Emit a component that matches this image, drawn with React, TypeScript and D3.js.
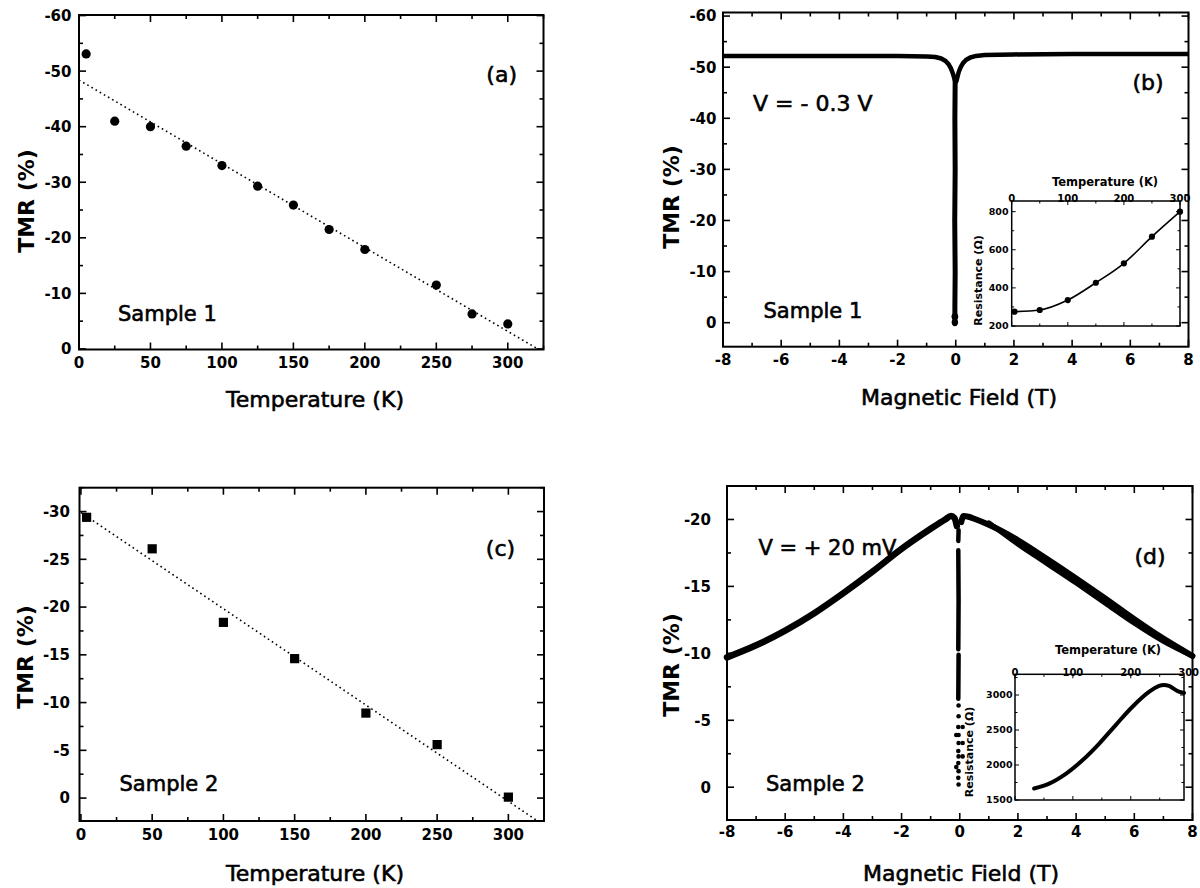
import React from "react";
import * as d3 from "d3";

// ---------- DATA ----------
// Panel (a): Sample 1, TMR vs temperature
const tempA = [5, 25, 50, 75, 100, 125, 150, 175, 200, 250, 275, 300];
const tmrA = [-53.1, -41.0, -40.0, -36.5, -33.0, -29.3, -25.9, -21.5, -17.9, -11.5, -6.3, -4.5];
const fitA: [number, number][] = [[0, -48.4], [321, 0]];

// Panel (c): Sample 2, TMR vs temperature
const tempC = [4, 50, 100, 150, 200, 250, 300];
const tmrC = [-29.4, -26.1, -18.4, -14.6, -8.9, -5.6, -0.1];
const fitC: [number, number][] = [[0, -29.9], [320, 2.35]];

// Panel (b): TMR vs field, Sample 1
const fieldB = [-8, -6, -4, -2, -1, -0.7, -0.5, -0.35, -0.25, -0.17, -0.1, -0.05, -0.02, 0.02, 0.05, 0.1, 0.17, 0.25, 0.35, 0.5, 0.7, 1, 2, 4, 6, 8];
const tmrB = [-52.2, -52.2, -52.2, -52.2, -52.1, -52.0, -51.7, -51.2, -50.6, -49.8, -48.8, -47.8, -47.2, -47.2, -47.9, -49.0, -50.0, -50.8, -51.4, -51.9, -52.2, -52.4, -52.5, -52.6, -52.6, -52.6];
const barFieldB = [-0.02, -0.03, -0.02, -0.035, -0.02, -0.03, -0.03];
const barTmrB = [-47.5, -40, -30, -20, -10, -3, 0.2];
// Inset (b): resistance vs temperature
const insetTempB = [5, 50, 100, 150, 200, 250, 300];
const insetResB = [275, 284, 336, 427, 529, 669, 800];

// Panel (d): TMR vs field, Sample 2
const fieldDLeft = [-8, -7, -6, -5, -4, -3, -2, -1, -0.5, -0.3, -0.18, -0.1];
const tmrDLeft = [-9.7, -10.6, -11.7, -13.0, -14.5, -16.1, -17.8, -19.3, -20.0, -20.25, -20.1, -19.5];
const fieldDRight = [0.05, 0.13, 0.3, 0.5, 1, 2, 3, 4, 5, 6, 7, 8];
const tmrDRight = [-19.8, -20.25, -20.2, -20.05, -19.6, -18.45, -17.05, -15.6, -14.1, -12.55, -11.1, -9.8];
const fieldDRight2 = [1, 2, 3, 4, 5, 6, 7, 8];
const tmrDRight2 = [-19.75, -18.15, -16.7, -15.25, -13.75, -12.25, -10.9, -9.8];
const streakSegsD: [number, number][][] = [
  [[-0.04, -19.2], [-0.05, -18.4]],
  [[-0.05, -17.7], [-0.04, -14], [-0.05, -10.3]],
  [[-0.04, -9.9], [-0.05, -6.6]],
];
const dotFieldD = [-0.04, -0.04, -0.05, -0.04, 0.1, -0.04, 0.1, -0.05, -0.04, 0.1, -0.05, -0.04, -0.05, -0.04, -0.12, -0.12];
const dotTmrD = [-6.1, -5.3, -4.5, -3.9, -4.5, -3.3, -3.3, -2.7, -2.3, -2.3, -1.8, -1.2, -0.7, -0.2, -3.9, -1.5];
// Inset (d): resistance vs temperature
const insetTempD = [33, 60, 89, 117, 146, 174, 203, 232, 249, 257, 266, 283, 292];
const insetResD = [1665, 1738, 1881, 2071, 2310, 2571, 2833, 3047, 3129, 3143, 3129, 3047, 3030];

// Tick values
const tempMajor = [0, 50, 100, 150, 200, 250, 300];
const tempMinor = [25, 75, 125, 175, 225, 275, 325];
const fieldMajor = [-8, -6, -4, -2, 0, 2, 4, 6, 8];
const fieldMinor = [-7, -5, -3, -1, 1, 3, 5, 7];
const tmrAMajor = [-60, -50, -40, -30, -20, -10, 0];
const tmrAMinor = [-55, -45, -35, -25, -15, -5];
const tmrCMajor = [-30, -25, -20, -15, -10, -5, 0];
const tmrCMinor = [-32.5, -27.5, -22.5, -17.5, -12.5, -7.5, -2.5];
const tmrBMajor = [-60, -50, -40, -30, -20, -10, 0];
const tmrBMinor = [-55, -45, -35, -25, -15, -5];
const tmrDMajor = [-20, -15, -10, -5, 0];
const tmrDMinor = [-22.5, -17.5, -12.5, -7.5, -2.5];
const insetTMajor = [0, 100, 200, 300];
const insetTMinor = [50, 150, 250];
const insetRBMajor = [200, 400, 600, 800];
const insetRBMinor = [300, 500, 700];
const insetRDMajor = [1500, 2000, 2500, 3000];
const insetRDMinor = [1750, 2250, 2750, 3250];

const FONT = "DejaVu Sans, sans-serif";

function Frame({ xs, ys, xMajor, xMinor, yMajor, yMinor, maj = 7, min = 4, sw = 2, tsw = 1.6 }: any) {
  const [l, r] = xs.range();
  const [b, t] = ys.range();
  const xd = xs.domain();
  const yd = ys.domain();
  const inX = (v: number) => v >= Math.min(xd[0], xd[1]) && v <= Math.max(xd[0], xd[1]);
  const inY = (v: number) => v >= Math.min(yd[0], yd[1]) && v <= Math.max(yd[0], yd[1]);
  const els: any[] = [];
  const addX = (vals: number[], len: number, key: string) =>
    vals.filter(inX).forEach((v, i) => {
      const x = xs(v);
      els.push(<line key={key + "b" + i} x1={x} x2={x} y1={b} y2={b - len} stroke="#000" strokeWidth={tsw} />);
      els.push(<line key={key + "t" + i} x1={x} x2={x} y1={t} y2={t + len} stroke="#000" strokeWidth={tsw} />);
    });
  const addY = (vals: number[], len: number, key: string) =>
    vals.filter(inY).forEach((v, i) => {
      const y = ys(v);
      els.push(<line key={key + "l" + i} x1={l} x2={l + len} y1={y} y2={y} stroke="#000" strokeWidth={tsw} />);
      els.push(<line key={key + "r" + i} x1={r} x2={r - len} y1={y} y2={y} stroke="#000" strokeWidth={tsw} />);
    });
  addX(xMajor, maj, "xM");
  addX(xMinor, min, "xm");
  addY(yMajor, maj, "yM");
  addY(yMinor, min, "ym");
  return (
    <g>
      <rect x={l} y={t} width={r - l} height={b - t} fill="none" stroke="#000" strokeWidth={sw} />
      {els}
    </g>
  );
}

function XLabels({ xs, vals, y, size = 15, weight = "bold" }: any) {
  return (
    <g>
      {vals.map((v: number, i: number) => (
        <text key={i} x={xs(v)} y={y} dy="0.36em" textAnchor="middle" fontFamily={FONT} fontSize={size} fontWeight={weight}>
          {String(v)}
        </text>
      ))}
    </g>
  );
}

function YLabels({ ys, vals, x, size = 15, weight = "bold" }: any) {
  return (
    <g>
      {vals.map((v: number, i: number) => (
        <text key={i} x={x} y={ys(v)} dy="0.36em" textAnchor="end" fontFamily={FONT} fontSize={size} fontWeight={weight}>
          {String(v)}
        </text>
      ))}
    </g>
  );
}

function Txt({ x, y, children, size = 21, weight = "normal", anchor = "middle", rotate = false }: any) {
  const heavy = weight === "normal";
  return (
    <text
      x={x}
      y={y}
      dy="0.36em"
      textAnchor={anchor}
      fontFamily={FONT}
      fontSize={size}
      fontWeight={weight}
      stroke={heavy ? "#000" : undefined}
      strokeWidth={heavy ? 0.6 : undefined}
      transform={rotate ? `rotate(-90 ${x} ${y})` : undefined}
    >
      {children}
    </text>
  );
}

const zip = (a: number[], b: number[]) => a.map((v, i) => [v, b[i]] as [number, number]);

export default function App() {
  // Panel (a)
  const xa = d3.scaleLinear().domain([0, 325]).range([79, 543.5]);
  const ya = d3.scaleLinear().domain([0.1, -60.1]).range([349.5, 15]);
  // Panel (b)
  const xb = d3.scaleLinear().domain([-8, 8]).range([723, 1188.5]);
  const yb = d3.scaleLinear().domain([4.7, -60.7]).range([346.7, 12.5]);
  const xbi = d3.scaleLinear().domain([0, 300]).range([1011.7, 1180]);
  const ybi = d3.scaleLinear().domain([200, 856]).range([326, 201]);
  // Panel (c)
  const xc = d3.scaleLinear().domain([-1, 325]).range([79.5, 544]);
  const yc = d3.scaleLinear().domain([2.4, -32.5]).range([821, 487.7]);
  // Panel (d)
  const xd = d3.scaleLinear().domain([-8, 8]).range([727, 1192.5]);
  const yd = d3.scaleLinear().domain([2.45, -22.5]).range([820, 486]);
  const xdi = d3.scaleLinear().domain([0, 292]).range([1015, 1184]);
  const ydi = d3.scaleLinear().domain([1500, 3296]).range([800, 674.3]);

  const lineA = d3.line<[number, number]>().x((d) => xa(d[0])).y((d) => ya(d[1]));
  const lineC = d3.line<[number, number]>().x((d) => xc(d[0])).y((d) => yc(d[1]));
  const lineB = d3.line<[number, number]>().x((d) => xb(d[0])).y((d) => yb(d[1]));
  const lineBi = d3.line<[number, number]>().x((d) => xbi(d[0])).y((d) => ybi(d[1])).curve(d3.curveMonotoneX);
  const lineD = d3.line<[number, number]>().x((d) => xd(d[0])).y((d) => yd(d[1])).curve(d3.curveMonotoneX);
  const lineDs = d3.line<[number, number]>().x((d) => xd(d[0])).y((d) => yd(d[1]));
  const lineDi = d3.line<[number, number]>().x((d) => xdi(d[0])).y((d) => ydi(d[1])).curve(d3.curveCatmullRom);

  return (
    <svg width={1200} height={888} style={{ display: "block", position: "absolute", left: 0, top: 0, background: "#fff" }}>
      <rect x={0} y={0} width={1200} height={888} fill="#fff" />

      {/* ---------- Panel (a) ---------- */}
      <Frame xs={xa} ys={ya} xMajor={tempMajor} xMinor={tempMinor} yMajor={tmrAMajor} yMinor={tmrAMinor} />
      <path d={lineA(fitA) || ""} fill="none" stroke="#000" strokeWidth={1.6} strokeDasharray="1.6 3.2" />
      {zip(tempA, tmrA).map((d, i) => (
        <circle key={i} cx={xa(d[0])} cy={ya(d[1])} r={4.6} fill="#000" />
      ))}
      <XLabels xs={xa} vals={tempMajor} y={362.5} />
      <YLabels ys={ya} vals={tmrAMajor} x={71.5} />
      <Txt x={315} y={399.5} size={22}>Temperature (K)</Txt>
      <Txt x={26} y={201} size={22} weight="bold" rotate>TMR (%)</Txt>
      <Txt x={501.7} y={74} size={22}>(a)</Txt>
      <Txt x={118} y={313} size={21} anchor="start">Sample 1</Txt>

      {/* ---------- Panel (b) ---------- */}
      <Frame xs={xb} ys={yb} xMajor={fieldMajor} xMinor={fieldMinor} yMajor={tmrBMajor} yMinor={tmrBMinor} />
      <path d={lineB(zip(fieldB, tmrB)) || ""} fill="none" stroke="#000" strokeWidth={4.5} strokeLinejoin="round" />
      <path d={lineB(zip(barFieldB, barTmrB)) || ""} fill="none" stroke="#000" strokeWidth={5} strokeLinecap="round" />
      <circle cx={xb(-0.03)} cy={yb(-1.2)} r={3.4} fill="#000" />
      <circle cx={xb(-0.03)} cy={yb(-0.1)} r={3.2} fill="#000" />
      <XLabels xs={xb} vals={fieldMajor} y={360} />
      <YLabels ys={yb} vals={tmrBMajor} x={716.5} />
      <Txt x={959} y={397} size={22}>Magnetic Field (T)</Txt>
      <Txt x={671} y={197} size={22} weight="bold" rotate>TMR (%)</Txt>
      <Txt x={1148} y={82} size={22}>(b)</Txt>
      <Txt x={753} y={103.5} size={22} anchor="start">V = - 0.3 V</Txt>
      <Txt x={763.5} y={310} size={21} anchor="start">Sample 1</Txt>

      {/* Inset (b) */}
      <rect x={1011.7} y={201} width={1180 - 1011.7} height={326 - 201} fill="#fff" />
      <Frame xs={xbi} ys={ybi} xMajor={insetTMajor} xMinor={insetTMinor} yMajor={insetRBMajor} yMinor={insetRBMinor} maj={4} min={2.5} sw={1.5} tsw={1} />
      <path d={lineBi(zip(insetTempB, insetResB)) || ""} fill="none" stroke="#000" strokeWidth={1.6} />
      {zip(insetTempB, insetResB).map((d, i) => (
        <circle key={i} cx={xbi(d[0])} cy={ybi(d[1])} r={3.1} fill="#000" />
      ))}
      {insetTMajor.map((v, i) => (
        <text key={i} x={xbi(v)} y={202} textAnchor="middle" fontFamily={FONT} fontSize={10} fontWeight="bold">
          {String(v)}
        </text>
      ))}
      <YLabels ys={ybi} vals={insetRBMajor} x={1008.5} size={9.5} />
      <Txt x={1105} y={181.7} size={11.5} weight="bold">Temperature (K)</Txt>
      <Txt x={978.5} y={280.5} size={11} weight="bold" rotate>Resistance (Ω)</Txt>

      {/* ---------- Panel (c) ---------- */}
      <Frame xs={xc} ys={yc} xMajor={tempMajor} xMinor={tempMinor} yMajor={tmrCMajor} yMinor={tmrCMinor} />
      <path d={lineC(fitC) || ""} fill="none" stroke="#000" strokeWidth={1.6} strokeDasharray="1.6 3.2" />
      {zip(tempC, tmrC).map((d, i) => (
        <rect key={i} x={xc(d[0]) - 4.6} y={yc(d[1]) - 4.6} width={9.2} height={9.2} fill="#000" />
      ))}
      <XLabels xs={xc} vals={tempMajor} y={835} />
      <YLabels ys={yc} vals={tmrCMajor} x={70} />
      <Txt x={315} y={873.5} size={22}>Temperature (K)</Txt>
      <Txt x={25} y={657} size={22} weight="bold" rotate>TMR (%)</Txt>
      <Txt x={500.5} y={548.5} size={22}>(c)</Txt>
      <Txt x={119.5} y={783.5} size={21} anchor="start">Sample 2</Txt>

      {/* ---------- Panel (d) ---------- */}
      <Frame xs={xd} ys={yd} xMajor={fieldMajor} xMinor={fieldMinor} yMajor={tmrDMajor} yMinor={tmrDMinor} />
      <path d={lineD(zip(fieldDLeft, tmrDLeft)) || ""} fill="none" stroke="#000" strokeWidth={6.5} strokeLinecap="round" />
      <path d={lineD(zip(fieldDRight, tmrDRight)) || ""} fill="none" stroke="#000" strokeWidth={6} strokeLinecap="round" />
      <path d={lineD(zip(fieldDRight2, tmrDRight2)) || ""} fill="none" stroke="#000" strokeWidth={5} strokeLinecap="round" />
      {streakSegsD.map((s, i) => (
        <path key={i} d={lineDs(s) || ""} fill="none" stroke="#000" strokeWidth={4.5} strokeLinecap="round" />
      ))}
      {zip(dotFieldD, dotTmrD).map((d, i) => (
        <circle key={i} cx={xd(d[0])} cy={yd(d[1])} r={2.3} fill="#000" />
      ))}
      <XLabels xs={xd} vals={fieldMajor} y={831.5} />
      <YLabels ys={yd} vals={tmrDMajor} x={711} />
      <Txt x={961} y={873.5} size={22}>Magnetic Field (T)</Txt>
      <Txt x={671} y={665} size={22} weight="bold" rotate>TMR (%)</Txt>
      <Txt x={1150} y={556} size={22}>(d)</Txt>
      <Txt x={758.5} y={547} size={21} anchor="start">V = + 20 mV</Txt>
      <Txt x={766} y={783.5} size={21} anchor="start">Sample 2</Txt>

      {/* Inset (d) */}
      <Frame xs={xdi} ys={ydi} xMajor={insetTMajor} xMinor={insetTMinor} yMajor={insetRDMajor} yMinor={insetRDMinor} maj={4} min={2.5} sw={1.5} tsw={1} />
      <path d={lineDi(zip(insetTempD, insetResD)) || ""} fill="none" stroke="#000" strokeWidth={4} strokeLinecap="round" />
      {insetTMajor.map((v, i) => (
        <text key={i} x={xdi(v)} y={675.5} textAnchor="middle" fontFamily={FONT} fontSize={10} fontWeight="bold">
          {String(v)}
        </text>
      ))}
      <YLabels ys={ydi} vals={insetRDMajor} x={1012.5} size={9.5} />
      <Txt x={1108} y={649.5} size={11.5} weight="bold">Temperature (K)</Txt>
      <Txt x={969} y={752} size={11} weight="bold" rotate>Resistance (Ω)</Txt>
    </svg>
  );
}
